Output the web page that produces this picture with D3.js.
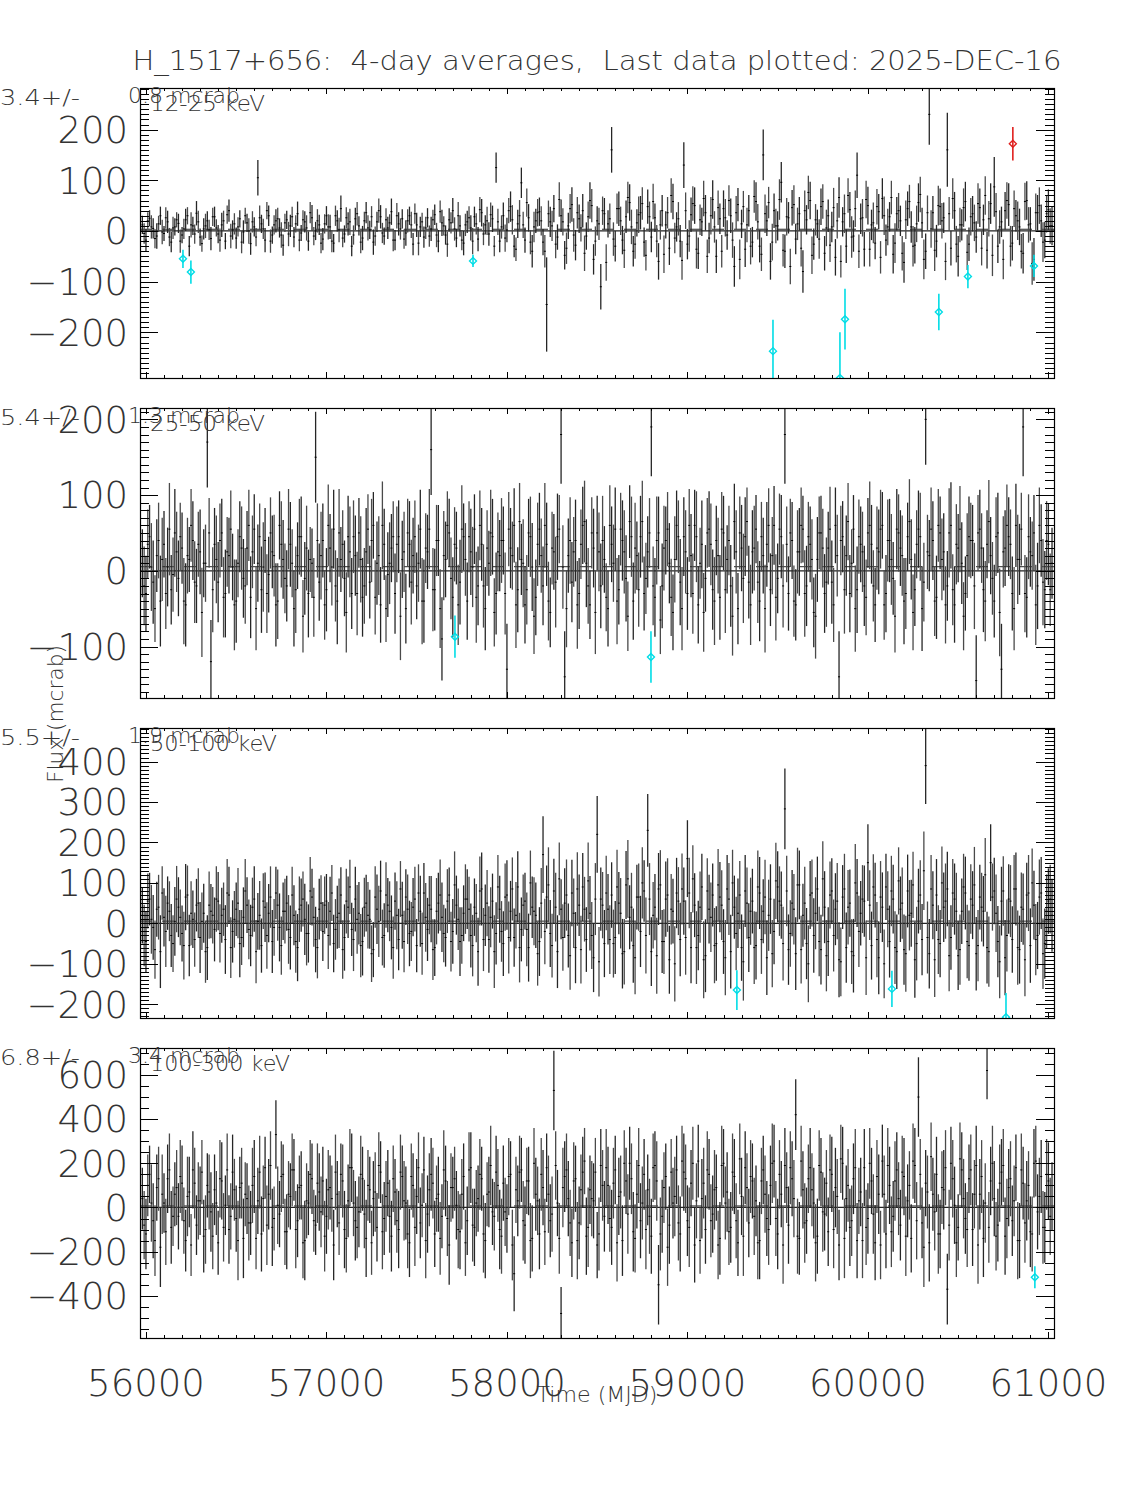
<!DOCTYPE html>
<html><head><meta charset="utf-8">
<script src="https://cdn.jsdelivr.net/npm/d3@7"></script>
<style>
body{margin:0;background:#fff}
text{font-family:"DejaVu Sans",sans-serif;font-weight:200;fill:#333;white-space:pre}
</style>
</head><body><svg id="c" width="1125" height="1500"></svg>
<script>
// ---------- DATA ----------
const titleText = "H_1517+656:  4-day averages,  Last data plotted: 2025-DEC-16";
const xTickLabels = [56000, 57000, 58000, 59000, 60000, 61000];
const bandLabels = ["12-25 keV", "25-50 keV", "50-100 keV", "100-300 keV"];
const meanLabels = ["3.4+/-", "5.4+/-", "5.5+/-", "6.8+/-"];
const errLabels = ["0.8 mcrab", "1.3 mcrab", "1.9 mcrab", "3.4 mcrab"];
const meanValues = [3.4, 5.4, 5.5, 6.8];
const p1Ticks = [-200, -100, 0, 100, 200];
const p2Ticks = [-100, 0, 100, 200];
const p3Ticks = [-200, -100, 0, 100, 200, 300, 400];
const p4Ticks = [-400, -200, 0, 200, 400, 600];

const times = [
55980,56000,56020,56040,56060,56080,56100,56120,56140,56160,
56180,56200,56220,56240,56260,56280,56300,56320,56340,56360,
56380,56400,56420,56440,56460,56480,56500,56520,56540,56560,
56580,56600,56620,56640,56660,56680,56700,56720,56740,56760,
56780,56800,56820,56840,56860,56880,56900,56920,56940,56960,
56980,57000,57020,57040,57060,57080,57100,57120,57140,57160,
57180,57200,57220,57240,57260,57280,57300,57320,57340,57360,
57380,57400,57420,57440,57460,57480,57500,57520,57540,57560,
57580,57600,57620,57640,57660,57680,57700,57720,57740,57760,
57780,57800,57820,57840,57860,57880,57900,57920,57940,57960,
57980,58000,58020,58040,58060,58080,58100,58120,58140,58160,
58180,58200,58220,58240,58260,58280,58300,58320,58340,58360,
58380,58400,58420,58440,58460,58480,58500,58520,58540,58560,
58580,58600,58620,58640,58660,58680,58700,58720,58740,58760,
58780,58800,58820,58840,58860,58880,58900,58920,58940,58960,
58980,59000,59020,59040,59060,59080,59100,59120,59140,59160,
59180,59200,59220,59240,59260,59280,59300,59320,59340,59360,
59380,59400,59420,59440,59460,59480,59500,59520,59540,59560,
59580,59600,59620,59640,59660,59680,59700,59720,59740,59760,
59780,59800,59820,59840,59860,59880,59900,59920,59940,59960,
59980,60000,60020,60040,60060,60080,60100,60120,60140,60160,
60180,60200,60220,60240,60260,60280,60300,60320,60340,60360,
60380,60400,60420,60440,60460,60480,60500,60520,60540,60560,
60580,60600,60620,60640,60660,60680,60700,60720,60740,60760,
60780,60800,60820,60840,60860,60880,60900,60920,60940,60960,
60980,61000,61020];
const times2 = [
55990,56010,56030,56050,56070,56090,56110,56130,56150,56170,
56190,56210,56230,56250,56270,56290,56310,56330,56350,56370,
56390,56410,56430,56450,56470,56490,56510,56530,56550,56570,
56590,56610,56630,56650,56670,56690,56710,56730,56750,56770,
56790,56810,56830,56850,56870,56890,56910,56930,56950,56970,
56990,57010,57030,57050,57070,57090,57110,57130,57150,57170,
57190,57210,57230,57250,57270,57290,57310,57330,57350,57370,
57390,57410,57430,57450,57470,57490,57510,57530,57550,57570,
57590,57610,57630,57650,57670,57690,57710,57730,57750,57770,
57790,57810,57830,57850,57870,57890,57910,57930,57950,57970,
57990,58010,58030,58050,58070,58090,58110,58130,58150,58170,
58190,58210,58230,58250,58270,58290,58310,58330,58350,58370,
58390,58410,58430,58450,58470,58490,58510,58530,58550,58570,
58590,58610,58630,58650,58670,58690,58710,58730,58750,58770,
58790,58810,58830,58850,58870,58890,58910,58930,58950,58970,
58990,59010,59030,59050,59070,59090,59110,59130,59150,59170,
59190,59210,59230,59250,59270,59290,59310,59330,59350,59370,
59390,59410,59430,59450,59470,59490,59510,59530,59550,59570,
59590,59610,59630,59650,59670,59690,59710,59730,59750,59770,
59790,59810,59830,59850,59870,59890,59910,59930,59950,59970,
59990,60010,60030,60050,60070,60090,60110,60130,60150,60170,
60190,60210,60230,60250,60270,60290,60310,60330,60350,60370,
60390,60410,60430,60450,60470,60490,60510,60530,60550,60570,
60590,60610,60630,60650,60670,60690,60710,60730,60750,60770,
60790,60810,60830,60850,60870,60890,60910,60930,60950,60970,
60990,61010];

// 12-25 keV
const p1Val = [
12,-18,25,5,-10,30,-5,18,-22,8,
15,-8,22,-30,10,35,-12,4,20,-15,
28,-6,12,-20,40,2,-14,24,-2,16,
-25,8,105,14,-18,30,-8,20,6,-28,
22,10,-12,34,-4,18,-20,26,0,12,
-16,30,8,-24,20,44,-6,14,-30,24,
10,-14,36,2,-22,18,28,-10,6,38,
-18,14,24,-4,30,-26,12,8,-12,26,
4,32,-20,16,-8,22,40,-14,10,-24,
18,6,28,-16,36,12,-6,24,125,-20,
30,2,48,-30,14,95,-18,26,-40,20,
38,-22,-145,18,44,-12,30,-48,10,52,
-28,24,40,-10,60,-56,20,-110,34,14,
160,-30,44,-18,28,56,-40,16,36,-22,
48,-12,26,-60,40,12,-34,58,8,-20,
130,-26,32,50,-44,18,36,-14,62,-50,
24,44,-8,30,-70,52,14,-36,40,-22,
58,-30,150,20,-60,40,10,96,-40,26,
46,-16,34,-80,22,60,-26,14,48,-44,
30,8,-52,66,18,-30,42,-10,110,24,
-36,50,12,-24,38,64,-18,28,-46,34,
20,-62,44,8,-28,56,16,-40,230,36,
-20,48,26,160,-34,40,-50,12,58,-26,
34,-12,46,22,-38,54,87,-30,18,40,
52,-24,30,8,-44,60,14,-56,36,20,
-18,42,10];
const p1Err = [
18,22,16,20,25,18,15,22,20,17,
19,16,22,20,18,24,17,21,19,23,
20,18,24,16,22,19,21,17,23,18,
22,19,35,18,24,20,17,23,19,21,
18,22,20,24,16,21,19,25,18,20,
22,19,24,18,21,26,17,23,20,22,
19,24,21,18,25,20,23,17,22,26,
20,23,19,25,18,22,24,20,21,19,
24,20,22,26,19,23,25,18,21,24,
22,25,20,24,27,19,23,26,30,22,
26,24,30,22,28,30,25,27,32,24,
28,26,93,30,27,25,32,28,26,34,
30,28,33,27,36,30,29,45,31,27,
45,30,34,28,32,36,30,27,33,29,
34,30,28,36,31,27,33,35,29,32,
45,30,34,36,31,28,35,30,38,33,
30,36,29,34,40,33,28,35,31,30,
38,32,50,30,36,34,29,40,33,31,
35,30,33,42,29,37,31,28,36,34,
32,30,36,40,29,33,35,31,45,30,
34,37,30,32,35,40,31,29,38,33,
30,40,34,31,36,38,30,35,60,33,
32,36,30,73,34,37,40,31,39,33,
35,31,38,30,36,40,59,33,30,37,
42,34,31,36,40,38,33,42,35,32,
36,40,38];
const p1Val2 = [
-5,20,8,-15,14,-2,26,-12,6,22,
-20,4,30,12,-6,18,-25,10,2,28,
6,-18,20,32,-10,14,8,-22,30,0,
18,-12,26,4,40,-20,12,24,-8,16,
-6,28,14,-18,22,6,36,-10,20,-24,
14,8,-20,30,2,-14,26,18,-8,34,
-22,20,6,28,-10,40,-4,22,16,-18,
30,4,-16,20,12,34,-24,18,6,-10,
22,-8,38,10,-26,16,4,30,-18,12,
26,-20,14,42,-6,20,32,-30,18,8,
-14,40,22,-36,30,12,56,-22,8,36,
20,-40,34,10,-26,62,18,-34,44,-8,
36,6,-44,28,50,-20,14,40,-62,24,
-16,44,20,-38,66,8,-26,32,54,-48,
28,58,-20,12,-46,36,70,-14,24,-58,
40,-10,54,-36,22,64,-50,30,8,46,
-40,26,60,-18,36,-56,48,12,-30,68,
18,-46,34,56,-22,10,62,-38,28,-70,
52,14,-34,40,76,-48,22,-16,58,6,
-28,46,20,-60,34,70,-12,44,-40,26,
62,-36,16,48,-52,30,8,66,-24,40,
-44,22,58,-30,14,72,-56,36,4,-38,
50,20,-60,34,64,-26,12,46,-42,28,
16,54,-34,70,24,-48,38,8,-56,60,
-30,44,20,-40,58,12,-64,36,50,-22,
34,10];
const p1Err2 = [
20,17,23,19,16,24,21,18,22,15,
23,20,17,25,19,22,16,24,20,18,
17,23,20,18,24,21,19,22,16,25,
21,18,24,20,17,23,19,22,25,18,
24,20,17,22,19,25,21,18,23,20,
19,25,22,20,24,18,21,26,19,23,
22,18,25,21,19,24,20,23,17,22,
25,21,19,23,26,20,24,18,22,21,
20,24,22,19,25,21,23,27,20,22,
23,26,21,25,22,28,24,20,26,23,
27,25,29,23,31,26,28,24,30,27,
29,32,26,30,28,34,27,31,29,33,
31,27,35,30,33,29,32,28,36,30,
33,30,28,35,31,34,29,36,32,30,
30,35,32,29,37,31,34,30,33,38,
36,31,34,38,30,35,33,37,31,34,
32,37,30,35,33,39,31,34,36,32,
35,33,38,31,36,34,40,32,37,35,
38,32,36,40,33,37,31,39,34,36,
33,39,35,32,38,34,41,36,33,37,
37,34,40,35,32,38,36,33,39,35,
34,38,33,40,36,35,39,34,37,41,
39,35,37,33,40,36,34,38,35,37,
36,40,34,38,35,41,37,33,39,36,
40,36,38,34,37,35,42,38,36,39,
37,35];
const p1CyanT = [56205, 56249, 57812, 59474, 59845, 59873, 60393, 60554, 60920];
const p1CyanV = [-55, -81, -59, -237, -290, -174, -160, -90, -69];
const p1CyanE = [18, 23, 12, 62, 90, 60, 36, 23, 22];
const p1RedT = [60803];
const p1RedV = [172];
const p1RedE = [33];

// 25-50 keV
const p2Val = [
10,-30,45,-15,20,-40,35,5,-25,50,
-10,30,-45,15,40,-20,25,10,170,-120,
35,-15,50,-30,20,5,-40,45,-10,30,
-35,55,10,-25,40,-5,25,-45,60,15,
-20,35,-50,20,45,-10,-30,10,150,-15,
40,-25,30,55,-40,15,-10,45,-30,20,
50,-35,25,-15,60,10,-45,35,-5,30,
-30,45,15,-50,35,20,-20,55,-40,25,
160,-25,40,-90,15,50,-35,30,-15,45,
-40,25,55,-20,35,-50,10,45,-30,20,
40,-130,30,60,-25,15,-45,50,5,-35,
55,-20,35,-55,25,45,180,-140,20,-15,
40,-30,60,10,-45,30,50,-20,15,-50,
35,55,-25,40,-10,65,-40,20,45,-30,
25,190,-35,50,-20,40,10,-55,60,-15,
45,-30,20,60,-45,35,-10,55,-25,40,
-35,50,15,-20,65,-50,30,45,-15,25,
55,-40,20,35,-25,60,-10,45,180,-30,
40,-45,25,55,-20,35,-55,15,50,-30,
30,-15,60,-140,45,20,-30,55,-25,35,
-20,50,35,-45,25,60,-30,40,-10,55,
30,-40,45,15,-25,55,-50,200,20,40,
-35,50,25,-20,60,-45,30,10,-30,45,
40,-145,55,-25,35,20,-40,50,-130,30,
45,-30,60,15,190,-35,25,50,-20,40,
-25,35,10];
const p2Err = [
45,50,42,55,48,60,44,52,46,58,
50,47,55,43,52,49,56,45,60,55,
48,53,45,58,50,44,55,47,52,49,
54,46,51,57,43,50,48,55,45,52,
47,56,50,44,53,48,58,46,60,51,
49,55,45,52,57,43,50,54,47,53,
46,52,58,48,44,55,50,47,56,45,
53,48,51,46,57,50,44,52,55,49,
60,54,47,55,50,45,53,48,56,44,
51,57,46,52,48,55,43,50,54,47,
45,60,53,49,56,47,51,45,58,50,
48,52,55,46,50,57,65,60,49,53,
54,47,51,58,45,52,49,56,44,50,
50,55,46,53,57,48,51,45,54,49,
47,65,52,48,56,45,53,50,46,57,
52,48,55,47,51,58,44,50,53,46,
56,49,45,54,50,47,57,52,48,55,
45,53,50,56,48,52,46,55,65,49,
51,47,58,44,53,50,46,56,49,52,
48,55,50,60,47,53,51,45,57,50,
53,46,52,49,56,44,51,55,48,53,
50,57,45,53,48,51,56,60,47,52,
55,48,51,46,57,50,45,54,49,53,
47,60,52,56,45,51,48,53,60,50,
52,49,55,47,65,53,46,50,57,48,
51,54,47];
const p2Val2 = [
-20,35,5,-50,40,15,-30,55,-5,25,
45,-40,20,60,-15,35,-55,10,50,-25,
15,40,-35,25,55,-45,10,30,-20,60,
25,-50,45,5,-30,50,20,-40,35,-10,
55,10,-25,45,-60,30,15,-35,40,20,
-45,60,5,-20,50,35,-55,25,45,-30,
15,-20,55,40,-35,20,60,-50,10,45,
35,-60,25,50,-15,45,10,-40,30,55,
-25,40,-50,20,60,-10,35,-45,55,15,
45,5,-35,60,-20,30,50,-55,25,40,
-30,55,20,-45,65,10,-25,45,-60,35,
20,60,-40,30,-15,55,5,-50,40,25,
-45,35,65,-20,50,-55,25,40,-35,60,
10,-40,55,25,-60,45,30,-25,65,-10,
50,-20,40,-65,30,55,-35,15,45,-50,
25,60,-30,45,10,-55,50,35,-40,20,
55,-25,40,-60,25,50,-10,65,-45,30,
-15,45,-50,60,20,-35,55,-20,35,50,
-40,25,60,-30,45,15,-60,50,30,-15,
55,-45,20,40,-25,65,10,-50,45,25,
-35,60,-20,30,55,-45,40,15,-60,50,
20,-30,65,-55,35,45,-15,25,55,-40,
60,15,-45,50,-25,35,55,-60,20,40,
-20,50,30,-40,65,-10,45,-55,25,60,
35,-50,15,55,-30,45,20,-45,60,-15,
40,-25];
const p2Err2 = [
52,46,58,44,50,55,47,61,49,53,
45,57,50,48,54,43,59,51,46,56,
58,49,53,46,51,60,45,55,50,47,
48,55,44,59,52,47,54,50,57,46,
53,45,57,50,48,56,43,52,49,58,
46,54,51,47,58,45,53,60,48,55,
57,50,46,55,49,52,58,44,54,47,
50,58,53,45,56,48,51,57,46,53,
55,47,52,59,45,54,49,53,58,48,
47,53,60,46,55,50,57,45,52,56,
54,49,45,57,51,58,46,53,50,55,
49,56,52,48,60,45,55,51,57,46,
58,46,54,50,47,55,52,59,45,53,
51,57,48,55,46,53,60,49,54,47,
46,52,58,45,56,49,51,57,48,55,
55,48,53,60,47,52,46,54,58,50,
49,57,46,52,55,48,59,45,53,56,
54,46,58,49,51,57,47,55,50,45,
47,55,50,57,46,53,56,48,52,59,
56,49,54,46,58,51,45,57,49,53,
50,58,47,55,52,46,54,60,48,51,
53,47,56,50,45,58,52,49,55,46,
48,54,51,59,47,53,57,45,56,50,
57,50,46,53,55,48,52,58,47,54,
46,55,59,48,51,56,45,53,50,57,
52,48];
const p2CyanT = [57712, 58798];
const p2CyanV = [-87, -114];
const p2CyanE = [28, 34];

// 50-100 keV
const p3Val = [
20,-45,60,-10,35,-70,15,50,-30,5,
40,-25,65,-55,10,45,-35,25,-60,30,
-15,55,20,-40,70,-20,35,-50,15,45,
-30,60,5,-55,40,25,-45,75,-10,30,
50,-35,20,-60,45,10,-25,65,-40,35,
-20,55,30,-50,15,70,-35,40,-15,60,
25,-45,50,10,-65,35,80,-30,45,-10,
55,-40,20,65,-25,40,-55,30,75,-15,
35,-60,50,15,-35,70,-20,45,-45,25,
60,-30,40,-70,85,20,-40,55,-25,35,
-50,70,30,-35,90,-15,55,-60,40,20,
-45,170,65,-25,80,-70,35,50,-30,75,
-60,45,90,-40,25,-85,220,60,-50,35,
70,-35,50,-75,95,15,-55,65,-20,80,
230,-70,40,85,-45,60,-90,30,75,-40,
55,160,-60,45,-30,90,-80,35,70,-50,
65,-45,85,-70,40,25,-60,80,-35,55,
-55,75,30,-85,60,-20,90,45,283,-65,
50,-75,95,20,-50,70,-30,85,-65,40,
-45,80,35,-90,65,-60,50,-80,75,25,
55,150,-55,70,-85,40,90,-45,60,-70,
35,-65,80,25,-90,55,-40,390,-75,45,
70,-50,40,85,-35,60,-80,30,75,-55,
45,-75,65,30,-60,150,80,-45,55,-85,
60,-40,85,-65,35,70,-55,45,-30,75,
-50,55,20];
const p3Err = [
70,75,65,80,68,90,72,66,78,85,
74,69,82,76,71,65,88,73,80,67,
79,72,68,85,70,77,66,83,74,69,
76,81,70,67,86,72,78,65,84,71,
68,79,74,83,66,88,72,70,81,75,
73,67,85,71,78,69,82,76,66,80,
77,84,70,73,68,86,75,80,67,79,
71,76,83,69,81,72,66,88,74,78,
82,70,75,86,72,68,80,73,85,69,
74,79,71,84,90,76,82,68,77,83,
80,86,75,72,88,79,70,84,76,81,
85,95,78,83,80,90,74,86,79,82,
88,76,84,80,92,85,95,78,83,87,
81,90,77,86,84,79,92,80,88,76,
90,85,82,89,78,93,84,80,87,91,
83,95,88,79,86,82,90,85,78,92,
87,80,84,91,78,86,82,89,85,80,
84,89,79,92,86,81,88,83,100,87,
82,90,85,78,88,84,92,80,86,89,
85,81,89,93,79,87,83,91,84,80,
88,95,84,80,90,86,82,89,85,92,
81,87,90,83,94,80,88,95,86,84,
89,83,86,92,80,88,85,81,90,87,
84,91,80,87,89,95,82,88,85,93,
86,82,90,84,88,80,92,85,83,89,
87,81,90];
const p3Val2 = [
-30,55,10,-65,40,75,-20,30,-50,60,
15,-55,70,25,-40,50,5,-70,45,20,
60,-25,35,75,-60,10,50,-35,80,-15,
40,-70,20,55,-30,65,-10,45,-55,30,
-15,70,-45,35,60,-25,80,15,-60,50,
45,-30,75,-15,25,-65,55,90,-40,10,
-55,40,20,-75,65,5,-35,70,30,-60,
20,85,-45,35,-20,60,75,-50,15,45,
-65,30,70,-25,55,-45,95,10,-30,60,
35,-55,25,80,-40,50,15,-70,90,-20,
65,-35,85,20,-60,45,-15,100,30,-75,
50,-20,95,-55,40,110,-35,70,-80,25,
85,-65,35,105,-30,60,-95,45,75,-40,
-50,90,25,-70,110,40,-85,65,100,-30,
60,20,-80,95,-45,70,35,-100,55,85,
-35,75,110,-60,40,-90,80,15,-55,95,
45,-85,60,100,-25,70,-95,50,30,-60,
90,-40,65,20,-75,105,55,-50,80,-25,
35,95,-65,50,-100,75,25,-45,110,-80,
70,-30,55,-95,85,40,-70,100,-20,60,
-85,45,90,-40,65,-100,35,80,-60,105,
50,-75,20,95,-50,70,130,-35,85,-90,
-40,100,55,-80,75,30,-65,90,-45,60,
95,-55,40,120,-70,65,25,-95,80,-30,
55,85,-60,40,-90,75,100,-40,65,-75,
30,60];
const p3Err2 = [
76,68,85,72,80,66,88,74,70,82,
69,84,73,79,67,86,71,77,83,70,
81,72,66,84,75,70,87,68,79,74,
73,78,85,69,82,76,70,88,72,80,
85,70,77,81,68,79,84,73,76,69,
71,83,69,75,86,72,80,67,78,85,
78,73,82,70,76,88,69,81,74,77,
84,69,76,86,73,80,71,77,85,72,
75,82,88,71,79,74,83,76,70,86,
80,76,72,85,78,82,74,90,79,75,
83,89,78,82,86,76,91,80,84,79,
87,81,93,79,85,90,82,88,84,86,
91,84,80,95,83,89,86,82,92,85,
84,92,87,81,96,85,90,83,88,94,
89,82,94,86,80,91,87,93,84,88,
92,87,83,90,88,95,81,86,93,89,
86,93,89,82,91,84,96,88,83,90,
90,85,92,88,83,94,86,91,87,82,
87,92,84,90,95,83,89,86,93,88,
83,89,94,85,87,92,80,96,88,84,
92,86,81,93,89,85,94,87,90,83,
88,94,87,82,91,86,97,89,84,92,
85,90,93,88,84,95,87,82,91,86,
94,88,85,91,87,83,96,90,86,89,
89,84,92,86,90,94,85,88,93,87,
91,85];
const p3CyanT = [59274, 60133, 60765];
const p3CyanV = [-165, -162, -232];
const p3CyanE = [49, 45, 60];

// 100-300 keV
const p4Val = [
40,-120,150,-60,90,-180,20,130,-90,60,
-40,110,-150,70,170,-80,30,-130,100,-20,
80,-160,120,10,-100,160,-50,90,-140,40,
-70,140,30,-120,180,60,-90,330,-30,150,
-110,50,170,-60,100,-150,20,130,-80,70,
120,-40,90,-170,60,150,-100,30,180,-60,
-20,130,-140,80,40,-90,160,-50,110,-130,
70,-100,140,20,-160,100,50,-70,170,-30,
150,-120,60,-40,120,-170,90,10,-110,140,
-60,180,-90,40,130,-150,70,-20,160,-100,
110,-50,150,-300,30,170,-80,120,-140,60,
-120,90,180,-60,530,20,-480,140,40,-160,
130,-70,160,-130,80,30,-170,190,-40,100,
-90,170,50,-150,120,200,-110,60,-60,150,
80,-130,190,-350,-40,140,-80,20,170,-120,
160,-60,110,-170,210,40,-100,150,-30,90,
-140,200,70,-90,140,-160,50,180,-70,120,
30,-150,170,-50,100,210,-120,60,190,-80,
130,420,-140,80,-60,180,20,-130,160,-30,
-110,150,90,-170,200,40,-90,130,-150,70,
180,-50,120,-160,60,210,-120,100,-40,170,
-80,140,30,-140,190,500,-70,110,-160,60,
150,-120,80,-370,200,10,-90,170,-50,130,
-100,190,60,-140,620,120,40,-80,160,-130,
90,-60,180,-150,110,30,-110,200,-20,140,
-90,120,50];
const p4Err = [
140,160,130,170,150,180,135,155,165,145,
150,170,140,160,175,135,155,165,145,180,
160,145,175,135,155,170,150,140,180,160,
145,165,150,170,140,160,175,155,150,135,
170,150,140,165,155,180,145,160,135,175,
155,170,145,160,150,140,175,165,155,180,
160,145,175,150,170,155,140,165,150,160,
150,175,140,165,155,145,170,160,150,175,
165,150,170,145,160,180,140,155,170,150,
155,160,175,150,145,170,160,150,165,180,
170,155,150,170,160,145,175,155,150,165,
160,170,155,165,180,150,120,160,170,155,
150,165,160,175,155,170,150,165,160,175,
170,155,175,160,150,165,180,155,170,160,
160,170,155,180,165,150,175,160,155,170,
175,160,150,170,165,180,155,160,175,150,
165,155,180,160,170,150,175,165,155,170,
160,175,155,170,180,165,160,150,170,175,
170,160,165,175,150,180,160,170,155,165,
155,170,180,160,165,150,175,160,170,155,
175,160,150,170,180,165,155,175,160,170,
160,175,165,155,170,180,160,150,175,165,
170,155,180,160,165,175,150,170,160,155,
165,180,160,175,130,155,170,165,150,175,
175,160,150,170,165,180,160,155,170,165,
160,175,155];
const p4Val2 = [
-80,100,20,-150,130,60,-110,170,-40,90,
140,-60,50,-170,110,30,160,-100,70,-130,
20,130,-90,170,-40,80,-150,110,60,-70,
100,-140,160,40,-80,190,-50,10,140,-110,
60,170,-100,90,-160,30,150,-60,110,-20,
-130,80,40,160,-70,120,-140,180,20,-90,
150,-30,100,-160,70,190,-110,50,-40,130,
-60,160,30,-120,140,-90,180,10,-150,80,
110,40,-140,170,-50,90,130,-100,60,-160,
170,-80,20,150,-120,60,190,-40,100,-130,
-20,140,-170,80,160,-60,120,-150,200,30,
150,-110,60,-30,190,-140,90,170,-70,120,
-150,80,210,-90,40,160,-120,100,180,-50,
110,-160,70,200,-30,130,-140,190,20,-100,
-40,180,120,-120,90,-180,160,50,-70,210,
130,-90,200,30,-150,110,170,-60,80,-170,
190,20,-110,160,-60,220,-130,90,140,-40,
-160,120,60,-100,200,-50,150,-170,90,180,
40,-130,210,-70,130,80,-160,190,-20,110,
170,-100,50,220,-140,100,-60,180,30,-150,
-90,200,-30,140,-170,60,190,-110,120,40,
160,-130,100,210,-60,150,-180,70,230,-20,
-120,90,180,-80,130,-160,220,40,-100,170,
60,-170,140,20,-90,200,-130,110,190,-50,
130,30,-150,170,-70,100,-120,210,50,-90,
150,-40];
const p4Err2 = [
155,140,175,160,145,180,150,165,135,170,
165,150,180,140,160,175,145,155,170,150,
145,175,155,165,150,140,180,160,145,170,
170,140,165,150,180,155,145,175,160,150,
150,165,175,145,160,170,155,140,180,160,
160,180,150,170,145,165,155,175,150,140,
175,155,160,145,180,150,170,160,165,150,
145,170,180,155,150,175,160,145,170,165,
160,150,165,180,170,155,145,175,160,150,
170,165,150,160,175,145,180,155,165,170,
155,175,160,150,165,180,150,170,160,155,
165,150,175,170,155,160,180,165,150,175,
175,160,150,180,170,155,165,160,175,150,
160,175,165,150,180,160,155,170,165,180,
170,155,180,165,160,175,150,180,170,160,
155,180,165,170,150,160,175,165,180,155,
180,165,150,175,170,160,180,155,165,175,
165,150,175,160,180,170,155,175,160,165,
175,170,160,180,155,165,175,160,180,150,
160,175,170,155,180,165,160,175,150,170,
170,160,180,165,155,175,170,160,180,165,
165,180,155,170,175,160,180,165,155,175,
180,165,170,160,175,155,165,180,170,160,
155,175,165,180,160,170,155,175,165,180,
170,160,175,165,180,155,170,160,175,165,
160,175];
const p4CyanT = [60925];
const p4CyanV = [-316];
const p4CyanE = [50];

// ---------- DRAW ----------
const panels = [
  {sets:[[times,p1Val,p1Err],[times2,p1Val2,p1Err2]], cyan:[p1CyanT,p1CyanV,p1CyanE], red:[p1RedT,p1RedV,p1RedE], dom:[-290,282], ticks:p1Ticks, major:100, minor:10},
  {sets:[[times,p2Val,p2Err],[times2,p2Val2,p2Err2]], cyan:[p2CyanT,p2CyanV,p2CyanE], red:[[],[],[]], dom:[-168,215], ticks:p2Ticks, major:100, minor:10},
  {sets:[[times,p3Val,p3Err],[times2,p3Val2,p3Err2]], cyan:[p3CyanT,p3CyanV,p3CyanE], red:[[],[],[]], dom:[-234,483], ticks:p3Ticks, major:100, minor:10},
  {sets:[[times,p4Val,p4Err],[times2,p4Val2,p4Err2]], cyan:[p4CyanT,p4CyanV,p4CyanE], red:[[],[],[]], dom:[-591,722], ticks:p4Ticks, major:200, minor:50}
];
const svg = d3.select("#c");
const X0 = 140, X1 = 1054, H = 290;
const tops = [88, 408, 728, 1048];
const x = d3.scaleLinear().domain([55967, 61031]).range([X0, X1]);
const fmt = d3.format("d");

svg.append("text").attr("x", 597).attr("y", 70).attr("text-anchor", "middle")
  .attr("font-size", 26).attr("textLength", 929).attr("lengthAdjust", "spacingAndGlyphs")
  .text(titleText);

panels.forEach((p, i) => {
  const top = tops[i], bot = top + H;
  const y = d3.scaleLinear().domain(p.dom).range([bot, top]);
  const cid = "clip" + i;
  svg.append("clipPath").attr("id", cid).append("rect")
    .attr("x", X0).attr("y", top).attr("width", X1 - X0).attr("height", H);
  const g = svg.append("g");
  const dg = g.append("g").attr("clip-path", `url(#${cid})`);

  // zero line and mean line
  dg.append("line").attr("x1", X0).attr("x2", X1).attr("y1", y(0)).attr("y2", y(0))
    .attr("stroke", "#222").attr("stroke-width", 1.2);
  dg.append("line").attr("x1", X0).attr("x2", X1).attr("y1", y(meanValues[i])).attr("y2", y(meanValues[i]))
    .attr("stroke", "#222").attr("stroke-width", 1).attr("stroke-dasharray", "12,10");

  p.sets.forEach(([T, V, E], s) => {
    const idx = d3.range(T.length);
    dg.selectAll(null).data(idx).join("line")
      .attr("x1", k => x(T[k])).attr("x2", k => x(T[k]))
      .attr("y1", k => y(V[k] + E[k])).attr("y2", k => y(V[k] - E[k]))
      .attr("stroke", s === 0 ? "#262626" : "#4a4a4a").attr("stroke-width", 1.3);
    dg.selectAll(null).data(idx).join("line")
      .attr("x1", k => x(T[k]) - 1).attr("x2", k => x(T[k]) + 1)
      .attr("y1", k => y(V[k])).attr("y2", k => y(V[k]))
      .attr("stroke", "#000").attr("stroke-width", 1);
  });

  function special(arr, col) {
    const [T, V, E] = arr;
    const id = d3.range(T.length);
    dg.selectAll(null).data(id).join("line")
      .attr("x1", k => x(T[k])).attr("x2", k => x(T[k]))
      .attr("y1", k => y(V[k] + E[k])).attr("y2", k => y(V[k] - E[k]))
      .attr("stroke", col).attr("stroke-width", 1.6);
    dg.selectAll(null).data(id).join("path")
      .attr("d", k => { const cx = x(T[k]), cy = y(V[k]), r = 3.5;
        return `M${cx-r},${cy}L${cx},${cy-r}L${cx+r},${cy}L${cx},${cy+r}Z`; })
      .attr("fill", "none").attr("stroke", col).attr("stroke-width", 1.4);
  }
  special(p.cyan, "#00dde6");
  special(p.red, "#e0201e");

  // frame
  g.append("rect").attr("x", X0 + 0.5).attr("y", top + 0.5).attr("width", X1 - X0).attr("height", H)
    .attr("fill", "none").attr("stroke", "#000").attr("stroke-width", 1.2);

  // x ticks (top & bottom)
  d3.range(56000, 61001, 100).forEach(t => {
    const L = t % 1000 === 0 ? 6 : 3;
    const xx = Math.round(x(t)) + 0.5;
    g.append("line").attr("x1", xx).attr("x2", xx).attr("y1", bot).attr("y2", bot - L).attr("stroke", "#000");
    g.append("line").attr("x1", xx).attr("x2", xx).attr("y1", top).attr("y2", top + L).attr("stroke", "#000");
  });
  // y ticks (left & right)
  d3.range(Math.ceil(p.dom[0] / p.minor) * p.minor, p.dom[1] + 0.001, p.minor).forEach(v => {
    const L = Math.abs(v % p.major) < 1e-6 ? 18 : 9;
    const yy = Math.round(y(v)) + 0.5;
    g.append("line").attr("x1", X0).attr("x2", X0 + L).attr("y1", yy).attr("y2", yy).attr("stroke", "#000");
    g.append("line").attr("x1", X1).attr("x2", X1 - L).attr("y1", yy).attr("y2", yy).attr("stroke", "#000");
  });
  // y tick labels
  p.ticks.forEach(v => {
    g.append("text").attr("x", 128).attr("y", y(v)).attr("dy", "0.36em")
      .attr("text-anchor", "end").attr("font-size", 37)
      .text(v < 0 ? "\u2212" + Math.abs(v) : fmt(v));
  });
  // panel labels
  g.append("text").attr("x", 0).attr("y", top + 17).attr("font-size", 21)
    .attr("textLength", 80).attr("lengthAdjust", "spacingAndGlyphs").text(meanLabels[i]);
  g.append("text").attr("x", 128).attr("y", top + 15).attr("font-size", 21)
    .attr("textLength", 112).attr("lengthAdjust", "spacingAndGlyphs").text(errLabels[i]);
  g.append("text").attr("x", 150).attr("y", top + 23).attr("font-size", 21)
    .attr("textLength", i === 0 || i === 1 ? 115 : (i === 2 ? 127 : 140)).attr("lengthAdjust", "spacingAndGlyphs")
    .text(bandLabels[i]);

  if (i === 3) {
    xTickLabels.forEach(t => {
      g.append("text").attr("x", x(t)).attr("y", bot + 58).attr("text-anchor", "middle")
        .attr("font-size", 37).text(fmt(t));
    });
  }
});

svg.append("text").attr("transform", "translate(63,714) rotate(-90)").attr("text-anchor", "middle")
  .attr("font-size", 21).attr("textLength", 138).attr("lengthAdjust", "spacingAndGlyphs").text("Flux (mcrab)");
svg.append("text").attr("x", 597).attr("y", 1402).attr("text-anchor", "middle")
  .attr("font-size", 21).attr("textLength", 121).attr("lengthAdjust", "spacingAndGlyphs").text("Time (MJD)");
</script>
</body></html>
